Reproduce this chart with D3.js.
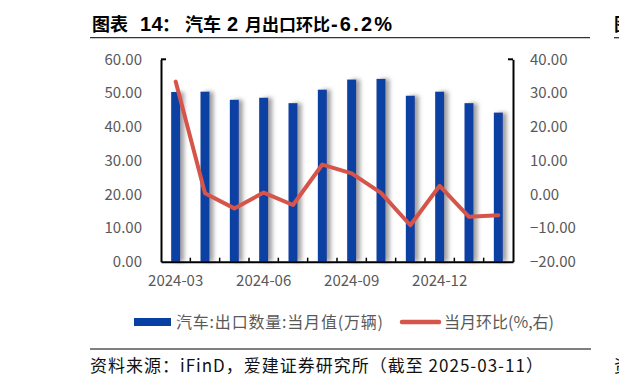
<!DOCTYPE html>
<html>
<head>
<meta charset="utf-8">
<script src="https://cdn.jsdelivr.net/npm/d3@7"></script>
<style>
  body { margin: 0; background: #fff; }
  text { font-family: "Noto Sans CJK SC", "Noto Sans", sans-serif; }
</style>
</head>
<body>
<svg id="chart" width="619" height="387"></svg>
<script>
// data
var months = ["2024-03","2024-04","2024-05","2024-06","2024-07","2024-08","2024-09","2024-10","2024-11","2024-12","2025-01","2025-02"];
var exportVol = [50.3, 50.4, 48.0, 48.6, 47.0, 51.0, 54.0, 54.2, 49.2, 50.4, 47.0, 44.2];
var momPct = [33.4, 0.3, -4.2, 0.5, -3.2, 8.8, 6.2, 0.4, -9.2, 2.5, -6.7, -6.2];
var leftTicks = [0, 10, 20, 30, 40, 50, 60];
var rightTicks = [-20, -10, 0, 10, 20, 30, 40];
var shownMonths = ["2024-03","2024-06","2024-09","2024-12"];

var svg = d3.select("#chart");
var plot = {left: 161, right: 513, top: 59.3, bottom: 261.7};
var blue = "#073fa3", red = "#d6554b", grey = "#595959";

// title: CJK and latin runs placed separately (latin looks like Arial bold)
var title = svg.append("text").attr("y", 31).style("font-weight", "bold").attr("fill", "#000");
var latin = "'Liberation Sans', Arial, sans-serif";
[
  {t: "图表", x: 92, latin: false},
  {t: "14", x: 140, latin: true},
  {t: "：", x: 162, latin: false},
  {t: "汽车", x: 185, latin: false},
  {t: "2", x: 227, latin: true},
  {t: "月出口环比", x: 245, latin: false},
  {t: "-6.2%", x: 331, latin: true}
].forEach(function(p){
  var s = title.append("tspan").attr("x", p.x).text(p.t);
  if (p.latin) s.style("font-family", latin).style("font-size", "20px").style("letter-spacing", p.t.length > 2 ? "2.2px" : "0.5px");
  else s.style("font-size", p.t.length > 4 ? "17px" : "18px");
});
svg.append("line").attr("x1", 90).attr("x2", 590).attr("y1", 37.7).attr("y2", 37.7)
  .attr("stroke", "#333").attr("stroke-width", 1.3);
// clipped neighbours at the right edge
svg.append("text").attr("x", 614).attr("y", 31)
  .style("font-size", "18px").style("font-weight", "bold").text("图");
svg.append("line").attr("x1", 614).attr("x2", 619).attr("y1", 37.7).attr("y2", 37.7)
  .attr("stroke", "#333").attr("stroke-width", 1.3);
svg.append("line").attr("x1", 90).attr("x2", 591).attr("y1", 349).attr("y2", 349)
  .attr("stroke", "#555").attr("stroke-width", 1.3);
svg.append("text").attr("x", 90).attr("y", 372)
  .style("font-size", "17px").style("letter-spacing", "1px").attr("fill", "#111")
  .text("资料来源：iFinD，爱建证券研究所（截至 2025-03-11）");
svg.append("text").attr("x", 614).attr("y", 372)
  .style("font-size", "17px").attr("fill", "#111").text("资");

var x = d3.scaleBand().domain(months).range([plot.left, plot.right]);
var yL = d3.scaleLinear().domain([0, 60]).range([plot.bottom, plot.top]);
var yR = d3.scaleLinear().domain([-20, 40]).range([plot.bottom, plot.top]);

// bar shadow
var defs = svg.append("defs");
var f = defs.append("filter").attr("id", "shadow").attr("x", "-50%").attr("width", "250%");
f.append("feDropShadow").attr("dx", 4).attr("dy", 0).attr("stdDeviation", 2.2)
  .attr("flood-color", "#777").attr("flood-opacity", 0.7);

var bw = 9;
svg.append("g").selectAll("rect").data(exportVol).enter().append("rect")
  .attr("x", function(d, i){ return x(months[i]) + x.bandwidth()/2 - bw/2; })
  .attr("width", bw)
  .attr("y", function(d){ return yL(d); })
  .attr("height", function(d){ return yL(0) - yL(d); })
  .attr("fill", blue)
  .attr("filter", "url(#shadow)");

// axes
var left = svg.append("g").attr("transform", "translate(" + plot.left + ",0)")
  .call(d3.axisLeft(yL).tickValues(leftTicks).tickFormat(d3.format(".2f")).tickSize(0).tickPadding(19));
var right = svg.append("g").attr("transform", "translate(" + plot.right + ",0)")
  .call(d3.axisRight(yR).tickValues(rightTicks).tickFormat(d3.format(".2f")).tickSize(0).tickPadding(17));
[left, right].forEach(function(g){
  g.select(".domain").attr("stroke", "#000").attr("stroke-width", 2);
  g.selectAll("text").attr("fill", grey).style("font-size", "15px");
});
// small end ticks at the top of both value axes
svg.append("line").attr("x1", plot.left).attr("x2", plot.left + 5).attr("y1", plot.top).attr("y2", plot.top)
  .attr("stroke", "#000").attr("stroke-width", 2);
svg.append("line").attr("x1", plot.right - 5).attr("x2", plot.right).attr("y1", plot.top).attr("y2", plot.top)
  .attr("stroke", "#000").attr("stroke-width", 2);

var bottom = svg.append("g").attr("transform", "translate(0," + plot.bottom + ")")
  .call(d3.axisBottom(x).tickValues(shownMonths).tickSize(0).tickPadding(14));
bottom.select(".domain").attr("stroke", "#000").attr("stroke-width", 2);
bottom.selectAll("text").attr("fill", grey).style("font-size", "15px");
// category separators pointing up
svg.append("g").selectAll("line").data(months.slice(1)).enter().append("line")
  .attr("x1", function(d){ return x(d); }).attr("x2", function(d){ return x(d); })
  .attr("y1", plot.bottom).attr("y2", plot.bottom - 4)
  .attr("stroke", "#000").attr("stroke-width", 1.5);

// month-on-month line
var line = d3.line()
  .x(function(d, i){ return x(months[i]) + x.bandwidth()/2; })
  .y(function(d){ return yR(d); });
svg.append("path").datum(momPct).attr("d", line)
  .attr("fill", "none").attr("stroke", red).attr("stroke-width", 4)
  .attr("stroke-linejoin", "round").attr("stroke-linecap", "round");

// legend
var lg = svg.append("g").style("font-size", "16px");
lg.append("rect").attr("x", 134).attr("y", 318).attr("width", 37).attr("height", 8).attr("fill", blue);
lg.append("text").attr("x", 176).attr("y", 328).attr("fill", grey).style("letter-spacing", "0.8px")
  .text("汽车:出口数量:当月值(万辆)");
lg.append("line").attr("x1", 402).attr("x2", 439).attr("y1", 322).attr("y2", 322)
  .attr("stroke", red).attr("stroke-width", 4.5).attr("stroke-linecap", "round");
lg.append("text").attr("x", 444).attr("y", 328).attr("fill", grey).text("当月环比(%,右)");
</script>
</body>
</html>
